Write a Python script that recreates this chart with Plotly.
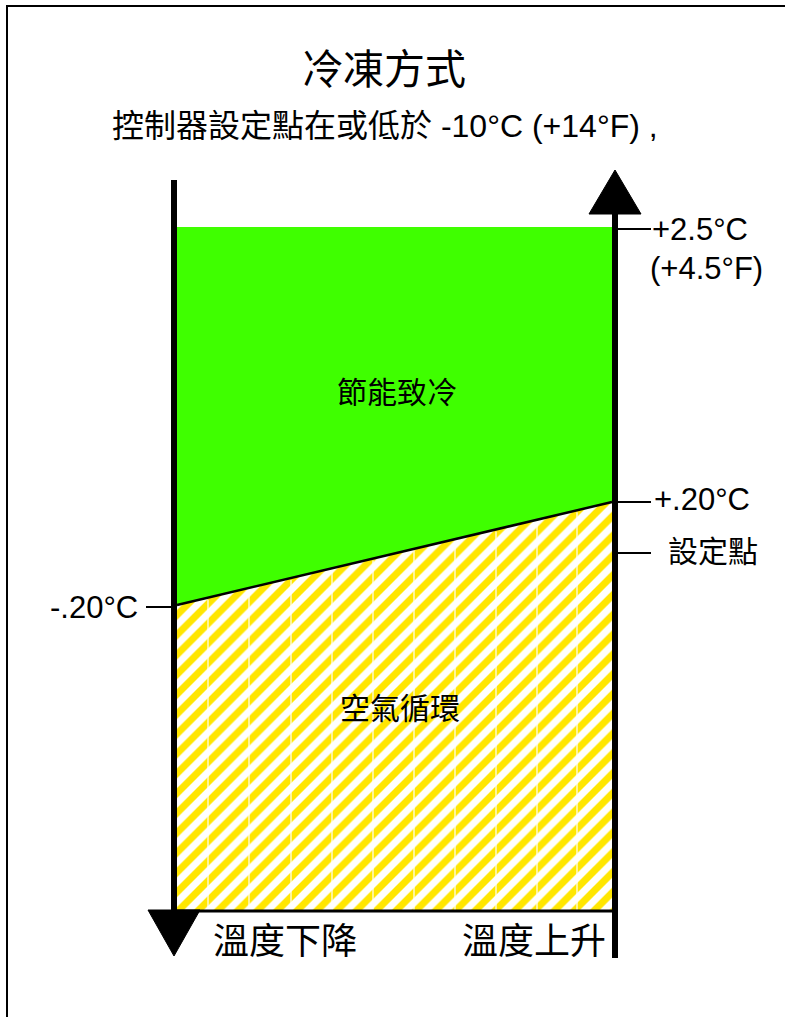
import plotly.graph_objects as go

# ---- content ----
title_text = "冷凍方式"
subtitle_text = "控制器設定點在或低於 -10°C (+14°F) ,"
zone_labels = ["節能致冷", "空氣循環"]
bottom_labels = ["溫度下降", "溫度上升"]

# temperature levels (label, schematic vertical position)
right_level_labels = ["+2.5°C", "(+4.5°F)", "+.20°C", "設定點"]
right_level_pos = [229, 268, 499, 551]
right_tick_pos = [229, 502, 553]
left_level_label = "-.20°C"
left_level_pos = 607

# schematic geometry (diagram units on a 785 x 1017 canvas)
x_left_axis, x_right_axis = 174, 615
x_fill = [177, 612]
y_top_band = 227
y_line = [605, 502]          # switching line: -0.20 at left -> +0.20 at right
y_bottom = 911
seam_x = [208, 249, 291, 332, 373, 414, 455, 496, 537, 577]

CJK = "Noto Sans CJK TC, Noto Sans CJK SC, sans-serif"
LAT = "Liberation Sans, Arial, Noto Sans CJK TC, sans-serif"
GREEN = "#3FFF00"
YELLOW = "#FFE600"

FIG_W, FIG_H = 785, 1017

fig = go.Figure()

# hatched air-circulation region
fig.add_trace(go.Scatter(
    x=[x_fill[0], x_fill[1], x_fill[1], x_fill[0], x_fill[0]],
    y=[y_line[0], y_line[1], y_bottom, y_bottom, y_line[0]],
    mode="lines", line=dict(width=0), fill="toself", fillcolor="white",
    fillpattern=dict(shape="/", fgcolor=YELLOW, bgcolor="white", size=14,
                     solidity=0.5, fgopacity=1, fillmode="replace"),
    hoverinfo="skip", showlegend=False))

# green economy-cooling region
fig.add_trace(go.Scatter(
    x=[x_fill[0], x_fill[1], x_fill[1], x_fill[0], x_fill[0]],
    y=[y_top_band, y_top_band, y_line[1], y_line[0], y_top_band],
    mode="lines", line=dict(width=0), fill="toself", fillcolor=GREEN,
    hoverinfo="skip", showlegend=False))

shapes = []
# thin white seams in hatch
for sx in seam_x:
    frac = (sx - x_fill[0]) / (x_fill[1] - x_fill[0])
    ytop = y_line[0] + (y_line[1] - y_line[0]) * frac
    shapes.append(dict(type="line", x0=sx, x1=sx, y0=ytop + 2, y1=y_bottom - 1,
                       line=dict(color="white", width=1.2)))
# switching line and bottom line
shapes.append(dict(type="line", x0=x_fill[0], x1=x_fill[1], y0=y_line[0], y1=y_line[1],
                   line=dict(color="black", width=2.5)))
shapes.append(dict(type="line", x0=x_fill[0], x1=x_fill[1], y0=y_bottom, y1=y_bottom,
                   line=dict(color="black", width=3)))
# axes
shapes.append(dict(type="line", x0=x_left_axis, x1=x_left_axis, y0=180, y1=912,
                   line=dict(color="black", width=6)))
shapes.append(dict(type="line", x0=x_right_axis, x1=x_right_axis, y0=212, y1=958,
                   line=dict(color="black", width=6)))
# arrows
shapes.append(dict(type="path", path="M 148 910 L 200 910 L 174 956 Z",
                   fillcolor="black", line=dict(color="black", width=1)))
shapes.append(dict(type="path", path="M 589 214 L 641 214 L 615 170 Z",
                   fillcolor="black", line=dict(color="black", width=1)))
# ticks
for ty in right_tick_pos:
    shapes.append(dict(type="line", x0=x_right_axis, x1=651, y0=ty, y1=ty,
                       line=dict(color="black", width=2)))
shapes.append(dict(type="line", x0=146, x1=x_left_axis, y0=left_level_pos, y1=left_level_pos,
                   line=dict(color="black", width=2)))
# border (frame continues past the right and bottom edges of the crop)
shapes.append(dict(type="rect", x0=7, x1=800, y0=6, y1=1030,
                   line=dict(color="black", width=2)))

ann = []
ann.append(dict(x=384, y=66, text=title_text, showarrow=False,
                font=dict(family=CJK, size=41, color="black"), xanchor="center", yanchor="middle"))
ann.append(dict(x=385, y=126, text=subtitle_text, showarrow=False,
                font=dict(family=LAT, size=32, color="black"), xanchor="center", yanchor="middle"))
ann.append(dict(x=397, y=390, text=zone_labels[0], showarrow=False,
                font=dict(family=CJK, size=30, color="black"), xanchor="center", yanchor="middle"))
ann.append(dict(x=400, y=706, text=zone_labels[1], showarrow=False,
                font=dict(family=CJK, size=30, color="black"), xanchor="center", yanchor="middle"))
ann.append(dict(x=285, y=938, text=bottom_labels[0], showarrow=False,
                font=dict(family=CJK, size=36, color="black"), xanchor="center", yanchor="middle"))
ann.append(dict(x=534, y=938, text=bottom_labels[1], showarrow=False,
                font=dict(family=CJK, size=36, color="black"), xanchor="center", yanchor="middle"))
right_x = [650, 648, 652, 666]
right_sizes = [31, 31, 31, 30]
for lbl, py, px, sz in zip(right_level_labels, right_level_pos, right_x, right_sizes):
    ann.append(dict(x=px, y=py, text=lbl, showarrow=False,
                    font=dict(family=LAT, size=sz, color="black"), xanchor="left", yanchor="middle"))
ann.append(dict(x=140, y=left_level_pos, text=left_level_label, showarrow=False,
                font=dict(family=LAT, size=31, color="black"), xanchor="right", yanchor="middle"))

fig.update_layout(
    width=FIG_W, height=FIG_H,
    margin=dict(l=0, r=0, t=0, b=0, pad=0),
    paper_bgcolor="white", plot_bgcolor="white",
    xaxis=dict(range=[0, 785], visible=False, fixedrange=True),
    yaxis=dict(range=[1017, 0], visible=False, fixedrange=True),
    shapes=shapes, annotations=ann, showlegend=False,
)

fig.write_html("out.html", config={"displayModeBar": False},
               post_script="document.body.style.margin='0';document.body.style.overflow='hidden';")
